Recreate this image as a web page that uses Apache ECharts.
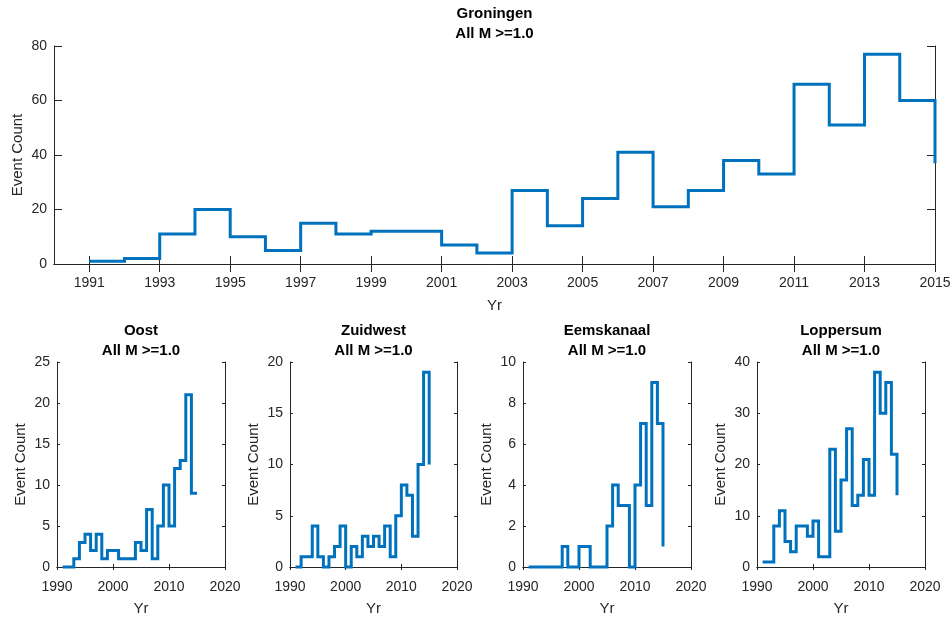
<!DOCTYPE html>
<html>
<head>
<meta charset="utf-8">
<script src="https://cdn.jsdelivr.net/npm/echarts@6/dist/echarts.min.js"></script>
<style>
  html, body { margin: 0; padding: 0; background: #ffffff; }
  #chart { width: 952px; height: 617px; }
</style>
</head>
<body>
<div id="chart"></div>
<script>
// Yearly earthquake counts (M >= 1.0), one value per year
const years = [1991, 1992, 1993, 1994, 1995, 1996, 1997, 1998, 1999, 2000,
               2001, 2002, 2003, 2004, 2005, 2006, 2007, 2008, 2009, 2010,
               2011, 2012, 2013, 2014, 2015];
const groningen  = [1, 2, 11, 20, 10, 5, 15, 11, 12, 12, 7, 4, 27, 14, 24, 41, 21, 27, 38, 33, 66, 51, 77, 60, 37];
const oost       = [0, 0, 1, 3, 4, 2, 4, 1, 2, 2, 1, 1, 1, 3, 2, 7, 1, 5, 10, 5, 12, 13, 21, 9, 9];
const zuidwest   = [0, 1, 1, 4, 1, 0, 1, 2, 4, 0, 2, 1, 3, 2, 3, 2, 4, 1, 5, 8, 7, 3, 10, 19, 10];
const eemskanaal = [0, 0, 0, 0, 0, 0, 1, 0, 0, 1, 1, 0, 0, 0, 2, 4, 3, 3, 0, 4, 7, 3, 9, 7, 1];
const loppersum  = [1, 1, 8, 11, 5, 3, 8, 8, 6, 9, 2, 2, 23, 7, 17, 27, 12, 14, 21, 14, 38, 30, 36, 22, 14];

// Tick labels
const mainYearTicks = [1991, 1993, 1995, 1997, 1999, 2001, 2003, 2005, 2007, 2009, 2011, 2013, 2015];
const decadeTicks = [1990, 2000, 2010, 2020];

const subtitle = 'All M >=1.0';
const FONT = '"Liberation Sans", Arial, Helvetica, sans-serif';
const INK = '#262626';
const LINE = '#0072BD';

const panels = [
  { title: 'Groningen',  values: groningen,  box: { left: 54,  top: 46,  width: 881, height: 218 },
    xMin: 1990, xMax: 2015, xTicks: mainYearTicks, yMax: 80, yStep: 20, tick: 8, titleTop: 14, labelGap: 12, nameGap: 34 },
  { title: 'Oost',       values: oost,       box: { left: 57,  top: 362, width: 168, height: 205 },
    xMin: 1990, xMax: 2020, xTicks: decadeTicks, yMax: 25, yStep: 5, tick: 3, titleTop: 331, labelGap: 13, nameGap: 34 },
  { title: 'Zuidwest',   values: zuidwest,   box: { left: 290, top: 362, width: 167, height: 205 },
    xMin: 1990, xMax: 2020, xTicks: decadeTicks, yMax: 20, yStep: 5, tick: 3, titleTop: 331, labelGap: 13, nameGap: 34 },
  { title: 'Eemskanaal', values: eemskanaal, box: { left: 523, top: 362, width: 168, height: 205 },
    xMin: 1990, xMax: 2020, xTicks: decadeTicks, yMax: 10, yStep: 2, tick: 3, titleTop: 331, labelGap: 13, nameGap: 34 },
  { title: 'Loppersum',  values: loppersum,  box: { left: 757, top: 362, width: 168, height: 205 },
    xMin: 1990, xMax: 2020, xTicks: decadeTicks, yMax: 40, yStep: 10, tick: 3, titleTop: 331, labelGap: 13, nameGap: 34 }
];

const grid = [], xAxis = [], yAxis = [], series = [], graphic = [];
const tickLabel = { color: INK, fontSize: 14, fontFamily: FONT, formatter: v => String(v) };
const nameStyle = { color: INK, fontSize: 15, fontFamily: FONT };
const axisLine = { show: true, lineStyle: { color: INK, width: 1 } };

panels.forEach((p, i) => {
  grid.push(Object.assign({ containLabel: false, outerBoundsMode: 'none' }, p.box));
  const tickStyle = { show: true, inside: true, length: p.tick, lineStyle: { color: INK, width: 1 }, customValues: p.xTicks };
  // bottom axis with labels
  xAxis.push({
    type: 'value', gridIndex: i, position: 'bottom', min: p.xMin, max: p.xMax,
    axisLine, axisTick: tickStyle, splitLine: { show: false },
    axisLabel: Object.assign({ margin: p.labelGap, customValues: p.xTicks, showMinLabel: true, showMaxLabel: true }, tickLabel),
    name: 'Yr', nameLocation: 'middle', nameGap: p.nameGap, nameMoveOverlap: false, nameTextStyle: nameStyle
  });
  // top mirror axis (ticks only)
  xAxis.push({
    type: 'value', gridIndex: i, position: 'top', min: p.xMin, max: p.xMax,
    axisLine, axisTick: tickStyle, splitLine: { show: false }, axisLabel: { show: false }
  });
  const yTick = { show: true, inside: true, length: p.tick, lineStyle: { color: INK, width: 1 } };
  yAxis.push({
    type: 'value', gridIndex: i, position: 'left', min: 0, max: p.yMax, interval: p.yStep,
    axisLine, axisTick: yTick, splitLine: { show: false },
    axisLabel: Object.assign({ margin: 7 }, tickLabel),
    name: 'Event Count', nameLocation: 'middle', nameGap: 29, nameMoveOverlap: false, nameTextStyle: nameStyle
  });
  yAxis.push({
    type: 'value', gridIndex: i, position: 'right', min: 0, max: p.yMax, interval: p.yStep,
    axisLine, axisTick: yTick, splitLine: { show: false }, axisLabel: { show: false }
  });
  series.push({
    type: 'line', step: 'end', xAxisIndex: 2 * i, yAxisIndex: 2 * i,
    data: years.map((y, k) => [y, p.values[k]]),
    showSymbol: false, symbol: 'none', clip: false, silent: true,
    lineStyle: { color: LINE, width: 3, cap: 'butt', join: 'miter' }
  });
  const cx = p.box.left + p.box.width / 2;
  graphic.push({ type: 'text', x: cx, y: p.titleTop, style: { text: p.title, fill: '#000', font: 'bold 15px ' + FONT, textAlign: 'center', textVerticalAlign: 'middle' } });
  graphic.push({ type: 'text', x: cx, y: p.titleTop + 20, style: { text: subtitle, fill: '#000', font: 'bold 15px ' + FONT, textAlign: 'center', textVerticalAlign: 'middle' } });
});

const chart = echarts.init(document.getElementById('chart'), null, { renderer: 'canvas' });
chart.setOption({
  backgroundColor: '#ffffff',
  animation: false,
  grid, xAxis, yAxis, series, graphic
});
</script>
</body>
</html>
